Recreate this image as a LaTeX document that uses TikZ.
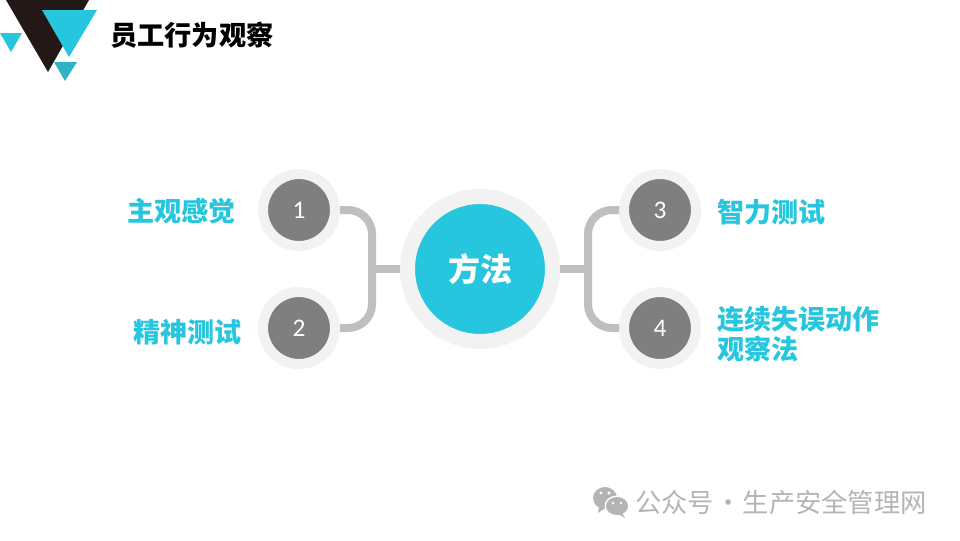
\documentclass[tikz,border=0pt]{standalone}
\usepackage{fontspec}
\newfontfamily\cjk{Noto Sans CJK SC}
\newfontfamily\numfont{Carlito}
\definecolor{tealmain}{HTML}{25C6DE}
\definecolor{tealdark}{HTML}{2FB2C4}
\definecolor{blackmark}{HTML}{231815}
\definecolor{ringgray}{HTML}{F2F2F2}
\definecolor{discgray}{HTML}{7F7F7F}
\definecolor{linkgray}{HTML}{BFBFBF}
\definecolor{markgray}{HTML}{B4B4B4}
\tikzset{
  numdisc/.style={circle, draw=ringgray, line width=7.5pt, fill=discgray, minimum size=54pt, inner sep=0pt, text=white, font=\numfont\fontsize{19}{22}\selectfont},
  hubdisc/.style={circle, draw=ringgray, line width=11.25pt, fill=tealmain, minimum size=108.75pt, inner sep=0pt, text=white, font=\cjk\bfseries\fontsize{24}{28}\selectfont},
  tag/.style={anchor=west, inner sep=0pt, text=tealmain, font=\cjk\bfseries\fontsize{20.3}{24}\selectfont},
  link/.style={draw=linkgray, line width=6pt, rounded corners=18pt}
}
\begin{document}
\begin{tikzpicture}[x=0.75pt, y=-0.75pt]
    \useasboundingbox (0,0) rectangle (960,540);

    % Corner mark
    \fill[blackmark] (6,0) -- (89,0) -- (48,72) -- cycle;
    \fill[tealmain] (42,10) -- (97,10) -- (69,57) -- cycle;
    \fill[tealmain] (0,33) -- (22,33) -- (11,52) -- cycle;
    \fill[tealdark] (54,62) -- (77,62) -- (65,81) -- cycle;

    % Title
    \node[anchor=west, inner sep=0pt, font=\cjk\bfseries\fontsize{20.4}{24}\selectfont] (title) at (110,35) {员工行为观察};

    % Discs
    \node[hubdisc] (hub) at (480,269) {方法};
    \node[numdisc] (n1) at (299,210) {1};
    \node[numdisc] (n2) at (299,328) {2};
    \node[numdisc] (n3) at (660,210) {3};
    \node[numdisc] (n4) at (660,328) {4};

    % Links
    \coordinate (jl) at (372,269);
    \coordinate (jr) at (588,269);
    \draw[link] (n1.east) -| (jl) |- (n2.east);
    \draw[link] (n3.west) -| (jr) |- (n4.west);
    \draw[link] (hub) -- (jl);
    \draw[link] (hub) -- (jr);

    % Labels
    \node[tag] (t1) at (127,211) {主观感觉};
    \node[tag] (t2) at (133,332) {精神测试};
    \node[tag] (t3) at (717,212) {智力测试};
    \node[tag] (t4) at (717,319) {连续失误动作};
    \node[tag] (t5) at (717,349) {观察法};

    % Watermark
    \fill[markgray] (605,498) ellipse (12 and 11);
    \fill[markgray] (599,507) -- (598,513) -- (605,508) -- cycle;
    \fill[white] (617,506) ellipse (12.5 and 10.5);
    \fill[markgray] (617,506) ellipse (11 and 9);
    \fill[markgray] (622,513) -- (625,518) -- (618,514) -- cycle;
    \fill[white] (601,493) circle (1.6) (609,493) circle (1.6) (613,503) circle (1.3) (621,503) circle (1.3);
    \node[anchor=west, inner sep=0pt, text=markgray, font=\cjk\fontsize{19.7}{24}\selectfont] (wm) at (635,502) {公众号\kern-3.5pt{} · \kern-3.5pt{}生产安全管理网};
\end{tikzpicture}
\end{document}
